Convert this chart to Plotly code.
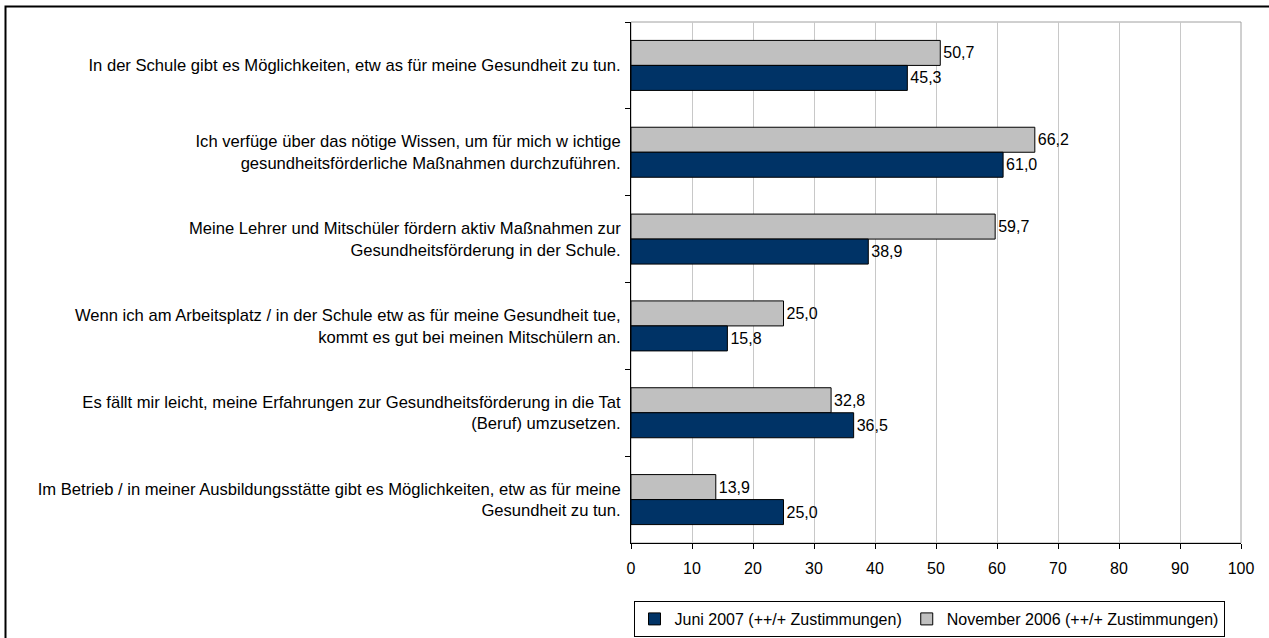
import plotly.graph_objects as go

categories = [
    "In der Schule gibt es Möglichkeiten, etw as für meine Gesundheit zu tun.",
    "Ich verfüge über das nötige Wissen, um für mich w ichtige<br>gesundheitsförderliche Maßnahmen durchzuführen.",
    "Meine Lehrer und Mitschüler fördern aktiv Maßnahmen zur<br>Gesundheitsförderung in der Schule.",
    "Wenn ich am Arbeitsplatz / in der Schule etw as für meine Gesundheit tue,<br>kommt es gut bei meinen Mitschülern an.",
    "Es fällt mir leicht, meine Erfahrungen zur Gesundheitsförderung in die Tat<br>(Beruf) umzusetzen.",
    "Im Betrieb / in meiner Ausbildungsstätte gibt es Möglichkeiten, etw as für meine<br>Gesundheit zu tun.",
]
nov_2006 = [50.7, 66.2, 59.7, 25.0, 32.8, 13.9]
juni_2007 = [45.3, 61.0, 38.9, 15.8, 36.5, 25.0]
x_ticks = [0, 10, 20, 30, 40, 50, 60, 70, 80, 90, 100]

def fmt(v):
    return f"{v:.1f}".replace(".", ",")

FONT = "Liberation Sans, Arial, sans-serif"
FS = 16

fig = go.Figure()
fig.add_trace(go.Bar(
    y=categories, x=nov_2006, orientation="h",
    name="November 2006 (++/+ Zustimmungen)",
    marker=dict(color="#c0c0c0", line=dict(color="#000000", width=1)),
    text=[fmt(v) for v in nov_2006], textposition="outside",
    textfont=dict(size=FS, color="#000000", family=FONT),
    cliponaxis=False, legendrank=2,
))
fig.add_trace(go.Bar(
    y=categories, x=juni_2007, orientation="h",
    name="Juni 2007 (++/+ Zustimmungen)",
    marker=dict(color="#003366", line=dict(color="#000000", width=1)),
    text=[fmt(v) for v in juni_2007], textposition="outside",
    textfont=dict(size=FS, color="#000000", family=FONT),
    cliponaxis=False, legendrank=1,
))

W, H = 1269, 638
L, R, T, B = 631, 28, 22, 95
pw, ph = W - L - R, H - T - B

fig.update_layout(
    width=W, height=H,
    margin=dict(l=L, r=R, t=T, b=B, pad=0, autoexpand=False),
    paper_bgcolor="white", plot_bgcolor="white",
    font=dict(family=FONT, size=FS, color="#000000"),
    barmode="group", bargap=0.424, bargroupgap=0,
    showlegend=True,
    legend=dict(
        orientation="h", x=(929 - L) / pw, xanchor="center", y=(543 - 601) / ph, yanchor="top",
        bordercolor="#000000", borderwidth=1, font=dict(size=FS, family=FONT),
        itemwidth=30, tracegroupgap=0,
    ),
    xaxis=dict(
        range=[0, 100], tickvals=x_ticks, ticktext=[str(t) for t in x_ticks],
        showgrid=True, gridcolor="#c8c8c8", gridwidth=1,
        showline=True, linecolor="#000000", linewidth=1,
        ticks="outside", ticklen=5, tickcolor="#000000", ticklabelstandoff=6,
        tickfont=dict(size=FS, family=FONT), zeroline=False, fixedrange=True,
        automargin=False,
    ),
    yaxis=dict(
        categoryorder="array", categoryarray=categories, autorange="reversed",
        showline=True, linecolor="#000000", linewidth=1,
        ticks="outside", ticklen=5, tickcolor="#000000", tickson="boundaries",
        ticklabelstandoff=6, automargin=False,
        tickfont=dict(size=16.6, family=FONT), showgrid=False, fixedrange=True,
    ),
    shapes=[
        dict(type="rect", xref="paper", yref="paper", x0=0, x1=1, y0=0, y1=1,
             line=dict(color="#a0a0a0", width=1), layer="below"),
        dict(type="rect", xref="paper", yref="paper",
             x0=(5.5 - L) / pw, x1=(W + 20 - L) / pw,
             y0=-(H + 20 - (T + ph)) / ph, y1=(T + ph - 6.5) / ph,
             line=dict(color="#000000", width=2), layer="above"),
    ],
)

fig.write_html(
    "out.html",
    config={"displayModeBar": False},
    post_script="document.body.style.margin='0';document.body.style.overflow='hidden';",
)
